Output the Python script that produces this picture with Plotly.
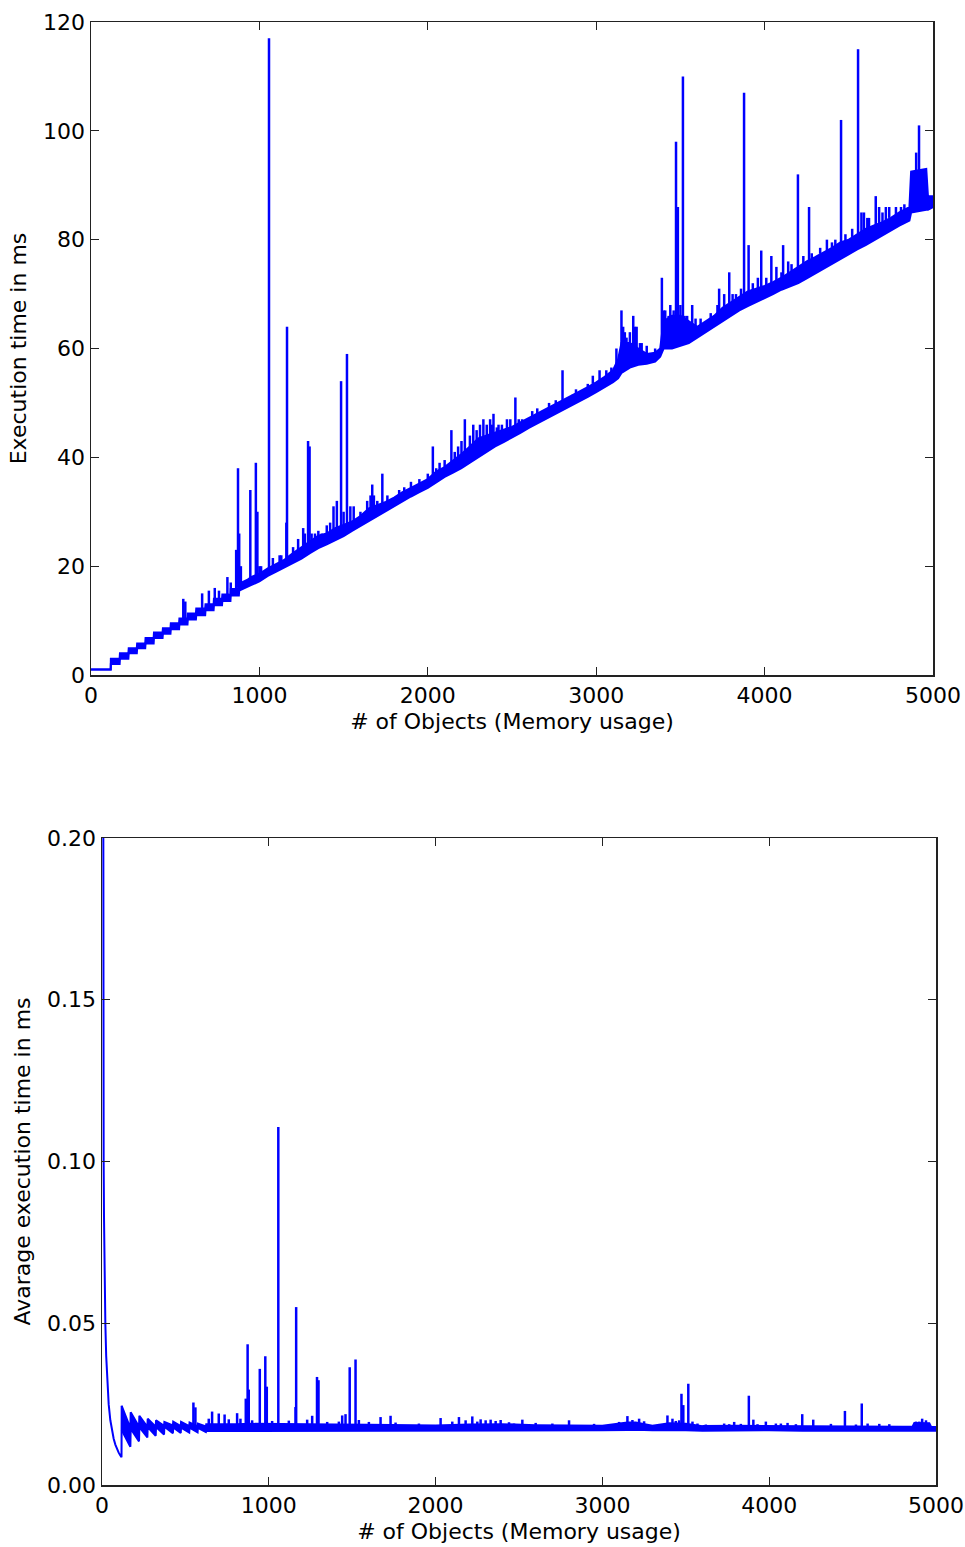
import plotly.graph_objects as go

# ---------------- Top panel: execution time (ms) ----------------
# Band of the noisy baseline (lower / upper edge)
top_band_x = [0, 117, 118, 170, 172, 222, 224, 272, 274, 322, 324, 372, 374, 425, 427, 472,
              474, 523, 525, 573, 575, 623, 625, 678, 680, 728, 730, 778, 780, 828, 830, 878,
              880, 930, 950, 1000, 1050, 1100, 1150, 1200, 1250, 1300, 1350, 1400, 1450, 1500,
              1550, 1600, 1650, 1700, 1750, 1800, 1850, 1900, 1950, 2000, 2050, 2100, 2150,
              2200, 2250, 2300, 2350, 2400, 2450, 2500, 2550, 2600, 2650, 2700, 2750, 2800,
              2850, 2900, 2950, 3000, 3050, 3100, 3130, 3150, 3200, 3250, 3300, 3350, 3380,
              3400, 3450, 3500, 3550, 3600, 3650, 3700, 3750, 3800, 3850, 3900, 3950, 4000,
              4050, 4100, 4150, 4200, 4250, 4300, 4350, 4400, 4450, 4500, 4550, 4600, 4650,
              4700, 4750, 4800, 4860, 4870, 4960, 4970, 5000]
top_band_lo = [1.0, 1.0, 2.0, 2.0, 3.0, 3.0, 4.0, 4.0, 4.9, 4.9, 5.8, 5.8, 6.8, 6.8, 7.6, 7.6,
               8.4, 8.4, 9.3, 9.3, 10.2, 10.2, 11.0, 11.0, 11.9, 11.9, 12.8, 12.8, 13.6, 13.6,
               14.6, 14.6,
               15.5, 16.3, 16.5, 17.2, 18.2, 19.0, 19.8, 20.6, 21.4, 22.4, 23.3, 24.0, 24.8, 25.5,
               26.5, 27.4, 28.4, 29.3, 30.2, 31.0, 31.9, 32.8, 33.6, 34.4, 35.4, 36.4, 37.2,
               38.0, 39.0, 40.0, 41.0, 42.0, 42.8, 43.6, 44.5, 45.4, 46.2, 47.0, 47.8, 48.6,
               49.4, 50.2, 51.1, 52.0, 52.9, 53.8, 54.5, 55.5, 56.5, 57.0, 57.2, 57.6, 58.5,
               60.0, 60.0, 60.5, 61.0, 62.0, 63.0, 64.0, 65.0, 66.0, 67.0, 67.8, 68.5, 69.2,
               70.0, 70.8, 71.4, 72.0, 72.9, 73.8, 74.7, 75.6, 76.5, 77.4, 78.2, 79.0, 79.9,
               80.8, 81.7, 82.6, 83.5, 85.0, 85.5, 85.5, 86.0]
top_band_hi = [1.0, 1.0, 3.0, 3.0, 4.0, 4.0, 4.9, 4.9, 5.8, 5.8, 6.8, 6.8, 7.8, 7.8, 8.6, 8.6,
               9.5, 9.5, 10.4, 10.4, 11.3, 11.3, 12.2, 12.2, 13.0, 13.0, 14.0, 14.0, 14.8, 14.8,
               15.8, 15.8,
               16.8, 17.5, 18.0, 18.6, 19.6, 20.4, 21.2, 22.4, 23.5, 24.6, 25.6, 26.0, 27.0, 27.6,
               28.2, 29.2, 30.6, 31.2, 31.8, 32.6, 33.6, 34.4, 35.2, 36.0, 37.4, 38.2, 39.4,
               40.6, 42.0, 43.5, 44.0, 44.5, 45.0, 45.6, 46.4, 47.2, 48.0, 48.8, 49.6, 50.4,
               51.2, 52.0, 52.9, 53.8, 54.8, 56.0, 58.0, 61.0, 61.0, 60.0, 59.0, 59.2, 60.0,
               65.0, 66.0, 66.0, 65.0, 64.0, 65.0, 66.0, 67.5, 68.5, 69.5, 70.5, 71.0, 71.5,
               72.2, 73.0, 74.0, 75.0, 76.0, 76.8, 77.6, 78.5, 79.5, 80.0, 81.0, 82.0, 82.6,
               83.2, 84.0, 85.0, 86.0, 92.5, 93.0, 88.0, 88.0]

# Large spikes: position, foot and peak
top_spike_x = [548, 560, 660, 700, 735, 760, 810, 830, 862, 873, 880, 890, 946, 979, 988, 1000,
               1057, 1130, 1160, 1164, 1260, 1289, 1298, 1330, 1370, 1440, 1460, 1485, 1520,
               1540, 1660, 1670, 1730, 1830, 2030, 2050, 2140, 2220, 2250, 2330, 2350, 2370,
               2390, 2420, 2470, 2520, 2560, 2800, 2860, 2950, 3020, 3150, 3170, 3220, 3240,
               3270, 3390, 3410, 3440, 3474, 3485, 3515, 3525, 3570, 3730, 3790, 3830, 3878,
               3905, 3980, 4040, 4110, 4140, 4198, 4264, 4420, 4454, 4555, 4575, 4610, 4660,
               4680, 4740, 4810, 4900, 4917, 4990]
top_spike_base = [10, 10, 12, 13, 13.5, 14, 14.5, 15, 15.5, 16, 16, 16, 17, 17.5, 17.5, 18,
                  18.5, 20, 21, 21, 22.5, 23, 23, 24, 24.5, 25.5, 26, 26, 26.5,
                  27, 29, 29, 30, 32, 35.5, 36, 37.5, 39.5, 40, 42, 42.5, 43,
                  43, 43.5, 44.5, 45, 45.5, 50, 50.5, 52, 53, 57, 58, 58, 58,
                  58, 60, 62, 62, 62, 62, 62, 62, 63, 66, 67, 68, 69,
                  69.5, 70.5, 72, 73, 73.5, 74.5, 76, 78, 79, 80.5, 81, 82, 82.5,
                  83, 84, 85, 90, 90, 87]
top_spike_peak = [14, 13.5, 15, 15.5, 16, 15.5, 18, 17, 23, 38, 26, 20, 34, 39, 30, 20,
                  117, 22, 28, 64, 27, 43, 42, 26, 26, 31, 32, 54, 59,
                  31, 33, 35, 37, 34, 42, 38, 45, 47, 44, 47, 46, 47,
                  48, 46, 47, 51, 47, 56, 51.5, 53.5, 56, 67, 63, 66, 64,
                  61, 73, 67, 68, 98, 86, 110, 66, 68, 71, 74, 70, 107,
                  79, 78, 77, 79, 76, 92, 86, 80, 102, 115, 85, 84, 88,
                  86, 86, 86, 96, 101, 88]

# Small noise spikes along the upper edge of the band
top_noise_x = [1010, 1080, 1120, 1200, 1230, 1270, 1310, 1350, 1400, 1420, 1500, 1560, 1600,
               1640, 1680, 1700, 1760, 1860, 1900, 1950, 2000, 2070, 2100, 2160, 2180, 2200,
               2270, 2290, 2310, 2380, 2410, 2440, 2490, 2540, 2620, 2650, 2720, 2760, 2880,
               2980, 3060, 3090, 3120, 3160, 3180, 3200, 3230, 3260, 3300, 3350, 3400, 3430,
               3460, 3500, 3540, 3590, 3620, 3680, 3720, 3760, 3810, 3860, 3930, 3960, 4010,
               4070, 4100, 4160, 4230, 4280, 4330, 4370, 4400, 4480, 4520, 4590, 4620, 4700,
               4720, 4780, 4830]
top_noise_base = [18.6, 20, 20.5, 22, 22.8, 23.5, 24.5, 25.5, 26, 26.4, 27.5, 28.3, 29,
                  30, 30.5, 31, 31.8, 33.5, 34.3, 35, 35.8, 37.4, 38, 39.2, 39.5, 40.5,
                  42, 42.5, 43, 44, 44.3, 44.8, 45.5, 46.2, 47.5, 48, 49, 49.6, 51.5,
                  53.5, 54.8, 55.5, 56, 60, 60, 60, 60, 59.5, 59, 59, 64, 65,
                  65, 65, 64.5, 64, 64.2, 65.5, 66.5, 67.5, 68.5, 69.5, 70.5, 71, 71.5,
                  72.5, 73, 74, 75.5, 76.5, 77.4, 78, 78.5, 79.7, 80.5, 81.8, 82.2, 83.2,
                  83.5, 84.6, 85.3]
top_noise_peak = [20, 21.5, 22, 23.5, 25, 26, 26, 26.5, 27.5, 28, 30, 31, 30,
                  32, 33, 32, 33, 34.5, 35.5, 36, 37, 39, 39.5, 41, 42, 43,
                  46, 45, 46, 46, 45.5, 46, 47, 47, 48.5, 49, 50, 50.5, 52.5,
                  55, 56, 56.5, 60, 64, 62, 63, 64, 61, 60.5, 60, 67, 66,
                  67, 68, 66, 65.5, 65.5, 66.5, 68, 70, 70, 71, 72, 73, 73,
                  75, 74, 75.5, 77, 77.5, 78.5, 80, 79.5, 81, 82, 85, 84, 85,
                  86, 86, 86.5]

# ---------------- Bottom panel: average execution time (ms) ----------------
bot_curve_x = [2, 5, 6, 7, 8, 10, 12, 15, 20, 25, 30, 40, 50, 60, 70, 80, 90, 100, 110, 117, 118]
bot_curve_y = [0.5, 0.2, 0.167, 0.143, 0.125, 0.1, 0.083, 0.067, 0.05, 0.04, 0.033, 0.025,
               0.02, 0.0167, 0.0143, 0.0125, 0.0111, 0.01, 0.0091, 0.0086, 0.0245]

bot_band_x = [118, 170, 172, 222, 224, 272, 274, 322, 324, 372, 374, 425, 427, 472, 474, 523,
              525, 573, 575, 623, 625, 700, 800, 900, 1000, 1200, 1400, 1600, 1800, 2000,
              2200, 2400, 2600, 2800, 3000, 3150, 3200, 3300, 3400, 3500, 3600, 3800, 4000,
              4200, 4400, 4600, 4800, 4860, 4870, 4960, 4970, 5000]
bot_band_lo = [0.0170, 0.0118, 0.0174, 0.0135, 0.0179, 0.0147, 0.0179, 0.0152, 0.0179, 0.0156,
               0.0180, 0.0160, 0.0178, 0.0161, 0.0177, 0.0162, 0.0177, 0.0163, 0.0177, 0.0164,
               0.0167, 0.0167, 0.0167, 0.0168, 0.0168, 0.0167, 0.0167, 0.0167, 0.0168, 0.0168,
               0.0168, 0.0169, 0.0169, 0.0169, 0.0169, 0.0170, 0.0171, 0.0169, 0.0170, 0.0169,
               0.0168, 0.0169, 0.0169, 0.0168, 0.0168, 0.0168, 0.0168, 0.0168, 0.0170, 0.0168,
               0.0168, 0.0168]
bot_band_hi = [0.0245, 0.0176, 0.0225, 0.0180, 0.0214, 0.0180, 0.0205, 0.0180, 0.0200, 0.0183,
               0.0195, 0.0184, 0.0196, 0.0182, 0.0195, 0.0182, 0.0193, 0.0181, 0.0190, 0.0181,
               0.0188, 0.0189, 0.0188, 0.0189, 0.0189, 0.0188, 0.0187, 0.0186, 0.0185, 0.0184,
               0.0187, 0.0188, 0.0185, 0.0184, 0.0183, 0.0193, 0.0193, 0.0183, 0.0191, 0.0189,
               0.0182, 0.0183, 0.0182, 0.0182, 0.0181, 0.0181, 0.0180, 0.0181, 0.0192, 0.0191,
               0.0180, 0.0179]

bot_spike_x = [548, 560, 660, 700, 735, 810, 830, 862, 873, 880, 946, 979, 988, 1057, 1160,
               1164, 1260, 1289, 1298, 1440, 1460, 1485, 1520, 1540, 1670, 1730, 2030, 2140,
               2220, 2250, 2330, 2390, 2470, 2520, 2800, 3150, 3220, 3390, 3440, 3474, 3485,
               3515, 3570, 3730, 3790, 3878, 3905, 3980, 4040, 4110, 4198, 4264, 4454, 4555,
               4660, 4900, 4917]
bot_spike_base = [0.018, 0.018, 0.0185, 0.0185, 0.0185, 0.0185, 0.0185, 0.0186, 0.0186, 0.0186,
                  0.0186, 0.0186, 0.0186, 0.0186, 0.0185, 0.0185, 0.0185, 0.0185, 0.0185, 0.0184,
                  0.0184, 0.0184, 0.0184, 0.0184, 0.0183, 0.0183, 0.018, 0.0182, 0.0184, 0.0184,
                  0.0184, 0.0185, 0.0183, 0.0183, 0.018, 0.019, 0.019, 0.0185, 0.0188, 0.0186,
                  0.0186, 0.0186, 0.0182, 0.018, 0.018, 0.018, 0.018, 0.0179, 0.0179, 0.0179,
                  0.0179, 0.0179, 0.0178, 0.0178, 0.0178, 0.0188, 0.0188]
bot_spike_peak = [0.0255, 0.024, 0.0227, 0.0221, 0.0218, 0.0222, 0.0205, 0.0267, 0.0435, 0.0295,
                  0.0359, 0.0398, 0.0304, 0.1107, 0.0241, 0.055, 0.0214, 0.0334, 0.0324, 0.0215,
                  0.0219, 0.0364, 0.0388, 0.0201, 0.021, 0.0214, 0.0207, 0.021, 0.0212, 0.0196,
                  0.0202, 0.0201, 0.019, 0.0202, 0.02, 0.0213, 0.0205, 0.0215, 0.0198, 0.0282,
                  0.0247, 0.0313, 0.019, 0.019, 0.0195, 0.0276, 0.0202, 0.0196, 0.019, 0.0192,
                  0.0219, 0.0202, 0.0229, 0.0252, 0.0189, 0.0196, 0.0205]

# Small noise bumps along the bottom band
bot_noise_x = [640, 760, 900, 1020, 1120, 1230, 1350, 1420, 1600, 1760, 1900, 2100, 2180,
               2270, 2300, 2360, 2440, 2600, 2700, 2950, 3100, 3180, 3250, 3420, 3460, 3540,
               3620, 3760, 3830, 3930, 4070, 4160, 4370, 4520, 4590, 4720, 4880, 4940]
bot_noise_base = [0.0185, 0.0185, 0.0186, 0.0186, 0.0186, 0.0185, 0.0185, 0.0184, 0.0184,
                  0.0183, 0.0182, 0.0182, 0.0184, 0.0185, 0.0185, 0.0185, 0.0185, 0.0183,
                  0.0182, 0.0181, 0.0185, 0.0190, 0.0188, 0.0188, 0.0188, 0.0186, 0.0180,
                  0.0181, 0.0181, 0.0180, 0.0180, 0.0180, 0.0179, 0.0179, 0.0179, 0.0178,
                  0.0185, 0.0188]
bot_noise_peak = [0.0205, 0.0203, 0.0200, 0.0198, 0.0199, 0.0202, 0.0195, 0.0196, 0.0195,
                  0.0193, 0.0190, 0.0196, 0.0200, 0.0203, 0.0200, 0.0198, 0.0194, 0.0192,
                  0.0190, 0.0189, 0.0195, 0.0201, 0.0197, 0.0205, 0.0200, 0.0196, 0.0187,
                  0.0188, 0.0189, 0.0188, 0.0190, 0.0188, 0.0189, 0.0187, 0.0190, 0.0188,
                  0.0196, 0.0200]

BLUE = "#0000ff"
FONT = dict(family="DejaVu Sans", size=22, color="black")

# full-window figure; the page margin is removed by the post script below
W, H = 965, 1547


def xd(p0, p1):
    return [p0 / W, p1 / W]


def yd(top, bottom):
    return [1 - bottom / H, 1 - top / H]


def spikes(xs, bases, peaks):
    sx, sy = [], []
    for x, b, p in zip(xs, bases, peaks):
        sx += [x, x, None]
        sy += [b, p, None]
    return sx, sy


fig = go.Figure()


def add_band(bx, lo, hi, xa, ya):
    fig.add_trace(go.Scatter(x=bx, y=lo, mode="lines", line=dict(color=BLUE, width=2),
                             xaxis=xa, yaxis=ya, showlegend=False, hoverinfo="skip"))
    fig.add_trace(go.Scatter(x=bx, y=hi, mode="lines", fill="tonexty", fillcolor=BLUE,
                             line=dict(color=BLUE, width=2), xaxis=xa, yaxis=ya,
                             showlegend=False, hoverinfo="skip"))


def add_spikes(xs, bs, ps, xa, ya, w):
    sx, sy = spikes(xs, bs, ps)
    fig.add_trace(go.Scatter(x=sx, y=sy, mode="lines", line=dict(color=BLUE, width=w),
                             xaxis=xa, yaxis=ya, showlegend=False, hoverinfo="skip"))


# top panel
add_band(top_band_x, top_band_lo, top_band_hi, "x", "y")
add_spikes(top_noise_x, top_noise_base, top_noise_peak, "x", "y", 2.5)
add_spikes(top_spike_x, top_spike_base, top_spike_peak, "x", "y", 2.5)

# bottom panel
fig.add_trace(go.Scatter(x=bot_curve_x, y=bot_curve_y, mode="lines",
                         line=dict(color=BLUE, width=2), xaxis="x2", yaxis="y2",
                         showlegend=False, hoverinfo="skip"))
add_band(bot_band_x, bot_band_lo, bot_band_hi, "x2", "y2")
add_spikes(bot_noise_x, bot_noise_base, bot_noise_peak, "x2", "y2", 2.5)
add_spikes(bot_spike_x, bot_spike_base, bot_spike_peak, "x2", "y2", 2.5)

axis_common = dict(showline=True, linecolor="#222222", linewidth=1.5, mirror="ticks",
                   ticks="inside", ticklen=8, tickwidth=1, tickcolor="#222222",
                   showgrid=False, zeroline=False, tickfont=FONT, automargin=False)

fig.update_layout(
    width=W, height=H,
    margin=dict(l=0, r=0, t=0, b=0, autoexpand=False),
    paper_bgcolor="white", plot_bgcolor="white",
    font=FONT,
    showlegend=False,
    hovermode=False,
    xaxis=dict(domain=xd(91, 933), anchor="y", range=[0, 5000],
               tickvals=[0, 1000, 2000, 3000, 4000, 5000],
               title=dict(text="# of Objects (Memory usage)", font=FONT, standoff=6),
               **axis_common),
    yaxis=dict(domain=yd(22, 675), anchor="x", range=[0, 120],
               tickvals=[0, 20, 40, 60, 80, 100, 120],
               title=dict(text="Execution time in ms", font=FONT, standoff=10),
               **axis_common),
    xaxis2=dict(domain=xd(102, 936), anchor="y2", range=[0, 5000],
                tickvals=[0, 1000, 2000, 3000, 4000, 5000],
                title=dict(text="# of Objects (Memory usage)", font=FONT, standoff=6),
                **axis_common),
    yaxis2=dict(domain=yd(838, 1485), anchor="x2", range=[0, 0.2],
                tickvals=[0, 0.05, 0.1, 0.15, 0.2], ticktext=["0.00", "0.05", "0.10", "0.15", "0.20"],
                title=dict(text="Avarage execution time in ms", font=FONT, standoff=10),
                **axis_common),
)

fig.write_html(
    "out.html",
    config={"displayModeBar": False, "staticPlot": True},
    post_script="document.body.style.margin='0px';document.body.style.overflow='hidden';"
                "document.documentElement.style.overflow='hidden';",
)
